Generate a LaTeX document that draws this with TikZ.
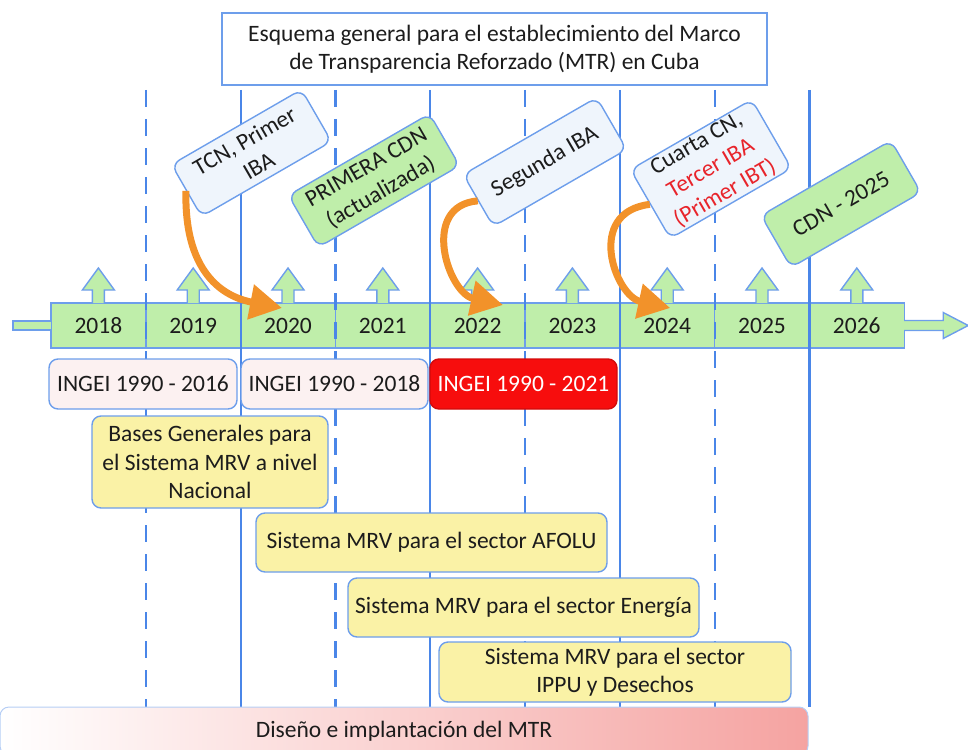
\documentclass[tikz,border=0pt]{standalone}
\usepackage{fontspec}
\setmainfont{Carlito}
\usepackage{tikz}
\usetikzlibrary{arrows.meta,positioning,calc}
\definecolor{azul}{HTML}{4A86E8}
\definecolor{borde}{HTML}{6D9EEB}
\definecolor{verde}{HTML}{BFEEAA}
\definecolor{celeste}{HTML}{EFF5FC}
\definecolor{rosa}{HTML}{FCF1F1}
\definecolor{amarillo}{HTML}{FAF2A6}
\definecolor{rojo}{HTML}{F70D0D}
\definecolor{rojotxt}{HTML}{E8242B}
\definecolor{naranja}{HTML}{F2922A}
\definecolor{salmon}{HTML}{F5A3A1}
\definecolor{tinta}{HTML}{1C1C1C}
\newcommand{\rj}[1]{\textcolor{rojotxt}{#1}}
\tikzset{
  anio/.style={rectangle, draw=borde, line width=1.4pt, fill=verde, text=tinta,
               minimum width=94.8pt, minimum height=45pt, inner sep=0pt, outer sep=0pt},
  caja/.style={rectangle, rounded corners=9pt, draw=borde, line width=1.4pt, fill=#1,
               align=center, text=tinta, inner sep=2pt},
  hito/.style={caja=#1, rotate=30, minimum width=150pt, minimum height=60pt},
  guia/.style={draw=azul, line width=2.2pt},
  guiad/.style={guia, dash pattern=on 17pt off 12pt},
  subida/.style={draw=borde, line width=1.4pt, fill=verde},
  flecha/.style={-{Triangle[length=32pt,width=34pt]}, draw=naranja, line width=7pt},
}

\begin{document}
\begin{tikzpicture}[x=1pt, y=-1pt, font=\fontsize{23.5}{28.5}\selectfont]
  \useasboundingbox (0,0) rectangle (968,749);
  % barra de años
  \foreach \yr [count=\i from 0] in {2018,...,2026}
    \node[anio] (y\yr) at ({98.4+94.8*\i},325.5) {\yr};
  % guías verticales
  \foreach \yr in {2020,2022,2024,2026}
    \draw[guia] (y\yr.west |- 0,90) -- (y\yr.west |- 0,707);
  \foreach \yr in {2019,2021,2023,2025}
    \draw[guiad] (y\yr.west |- 0,90) -- (y\yr.west |- 0,707);
  % extremos de la barra y flechas hacia arriba
  \filldraw[subida] (y2018.west) ++(0,-4.5) -- ++(-38,0) -- ++(0,9) -- ++(38,0);
  \filldraw[subida] (y2026.east) ++(0,-5) -- ++(39,0) -- ++(0,-8) -- ++(25,13)
    -- ++(-25,13) -- ++(0,-8) -- ++(-39,0);
  \foreach \yr in {2018,...,2026}
    \filldraw[subida] (y\yr.north) ++(-6,0) -- ++(0,-13) -- ++(-10,0) -- ++(16,-22)
      -- ++(16,22) -- ++(-10,0) -- ++(0,13);

  \node[caja=white, rounded corners=0pt, minimum width=545pt, minimum height=72pt] (titulo)
    at (494.5,49) {Esquema general para el establecimiento del Marco\\de Transparencia Reforzado (MTR) en Cuba};

  % hitos
  \node[hito=celeste] (tcn) at (251.5,153) {TCN, Primer\\IBA};
  \node[hito=verde, minimum width=163pt] (cdn1) at (374,180.5) {PRIMERA CDN\\(actualizada)};
  \node[hito=celeste, minimum width=154pt] (iba2) at (545,162) {Segunda IBA};
  \node[hito=celeste, minimum width=140pt, minimum height=79pt] (cn4) at (711,169)
    {Cuarta CN,\\\rj{Tercer IBA}\\\rj{(Primer IBT)}};
  \node[hito=verde] (cdn25) at (841,204) {CDN - 2025};

  % inventarios y sistemas MRV
  \node[caja=rosa, minimum width=188pt, minimum height=50pt] (i16) at (143,384) {INGEI 1990 - 2016};
  \node[caja=rosa, minimum width=187pt, minimum height=50pt, right=2.6pt of i16] (i18) {INGEI 1990 - 2018};
  \node[caja=rojo, draw=rojo!85!black, text=white, minimum width=187pt, minimum height=50pt,
        right=0.6pt of i18] (i21) {INGEI 1990 - 2021};
  \node[caja=amarillo, minimum width=236pt, minimum height=92pt] (bases) at (210,462)
    {Bases Generales para\\el Sistema MRV a nivel\\Nacional};
  \node[caja=amarillo, minimum width=351pt, minimum height=59pt] (afolu) at (431.5,542.5)
    {Sistema MRV para el sector AFOLU};
  \node[caja=amarillo, minimum width=351pt, minimum height=59pt] (energia) at (523.5,607.5)
    {Sistema MRV para el sector Energía};
  \node[caja=amarillo, minimum width=352pt, minimum height=60pt] (ippu) at (615,672)
    {Sistema MRV para el sector\\IPPU y Desechos};

  \node[rectangle, rounded corners=9pt, draw=borde!50, line width=1pt, left color=white,
        middle color=salmon!60, right color=salmon, text=tinta, minimum width=808pt,
        minimum height=48pt] (mtr)
    at (404,731) {Diseño e implantación del MTR};

  % flechas naranjas
  \draw[flecha] (tcn.west) .. controls +(-2,89) and +(-52,-10) .. ([shift={(-6,5)}]y2020.north);
  \draw[flecha] (iba2.west) .. controls +(-58,5) and +(-55,-12) .. ([shift={(25.4,2)}]y2022.north);
  \draw[flecha] (cn4.west) .. controls +(-65,8) and +(-55,-12) .. ([shift={(3,5)}]y2024.north);
\end{tikzpicture}
\end{document}
